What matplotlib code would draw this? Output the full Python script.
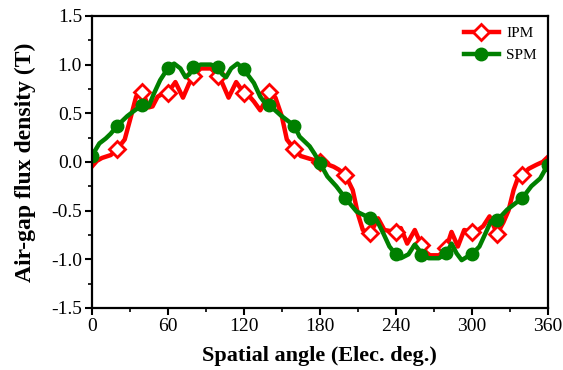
import numpy as np
import matplotlib
matplotlib.use("Agg")
import matplotlib.pyplot as plt
from matplotlib.ticker import MultipleLocator

# ---- data ----
ipm_angle = [0, 4, 8, 15, 20, 26, 31, 35, 40, 45, 48, 52, 56, 60, 66, 72, 77, 80, 82, 86,
             94, 98, 100, 103, 108, 114, 120, 124, 128, 133, 136, 140, 145, 150, 154, 160,
             165, 170, 175, 180, 185, 191, 195, 200, 206, 210, 214, 220, 226, 231, 240,
             244, 249, 255, 260, 264, 267, 274, 277, 280, 284, 289, 294, 300, 305, 309,
             314, 317, 320, 325, 329, 333, 336, 340, 345, 351, 356, 360]
ipm_b = [-0.05, 0.01, 0.04, 0.07, 0.13, 0.23, 0.47, 0.67, 0.72, 0.56, 0.57, 0.67, 0.70,
         0.71, 0.82, 0.66, 0.81, 0.88, 0.91, 0.96, 0.96, 0.91, 0.88, 0.81, 0.66, 0.82,
         0.71, 0.68, 0.62, 0.53, 0.60, 0.72, 0.66, 0.47, 0.23, 0.13, 0.06, 0.04, 0.02,
         0.0, -0.02, -0.05, -0.08, -0.13, -0.29, -0.53, -0.70, -0.73, -0.58, -0.70,
         -0.72, -0.68, -0.84, -0.70, -0.85, -0.93, -0.96, -0.96, -0.93, -0.88, -0.72,
         -0.87, -0.70, -0.72, -0.70, -0.66, -0.56, -0.65, -0.74, -0.62, -0.50, -0.29,
         -0.18, -0.13, -0.07, -0.03, 0.0, 0.05]

spm_angle = [0, 6, 11, 15, 20, 28, 34, 40, 45, 49, 54, 60, 65, 70, 74, 77, 80, 86, 94,
             100, 103, 106, 110, 115, 120, 128, 133, 137, 140, 149, 160, 164, 172, 176,
             180, 186, 193, 200, 209, 220, 225, 230, 235, 240, 244, 250, 255, 258, 260,
             266, 274, 280, 284, 288, 292, 297, 300, 306, 312, 315, 320, 328, 340, 347,
             354, 360]
spm_b = [0.06, 0.19, 0.24, 0.29, 0.37, 0.47, 0.53, 0.585, 0.57, 0.70, 0.84, 0.96, 1.01,
         0.96, 0.87, 0.90, 0.97, 1.00, 1.00, 0.97, 0.90, 0.87, 0.96, 1.01, 0.95, 0.81,
         0.67, 0.60, 0.585, 0.48, 0.37, 0.26, 0.16, 0.08, -0.01, -0.15, -0.25, -0.37,
         -0.51, -0.58, -0.60, -0.73, -0.87, -0.95, -0.99, -0.95, -0.85, -0.90, -0.96,
         -0.99, -0.99, -0.94, -0.84, -0.94, -1.01, -0.97, -0.95, -0.87, -0.70, -0.61,
         -0.60, -0.49, -0.37, -0.25, -0.17, -0.03]

# markers every 20 deg (IPM has none at the ends)
ipm_marks = [(a % 20 == 0) and 0 < a < 360 for a in ipm_angle]
spm_marks = [a % 20 == 0 for a in spm_angle]

plt.rcParams['font.family'] = ['Liberation Serif', 'DejaVu Serif']

fig = plt.figure(figsize=(5.63, 3.70), dpi=100)
ax = fig.add_axes([0.163, 0.168, 0.81, 0.789])

ax.plot(ipm_angle, ipm_b, color='#ff0000', lw=3.2, marker='D', markersize=8,
        markerfacecolor='white', markeredgecolor='#ff0000', markeredgewidth=2,
        markevery=ipm_marks, solid_joinstyle='round', label='IPM')
ax.plot(spm_angle, spm_b, color='#008000', lw=3.2, marker='o', markersize=9,
        markerfacecolor='#008000', markeredgecolor='#008000',
        markevery=spm_marks, solid_joinstyle='round', label='SPM')

ax.set_xlim(0, 360)
ax.set_ylim(-1.5, 1.5)
ax.xaxis.set_major_locator(MultipleLocator(60))
ax.xaxis.set_minor_locator(MultipleLocator(30))
ax.yaxis.set_major_locator(MultipleLocator(0.5))
ax.yaxis.set_minor_locator(MultipleLocator(0.25))
ax.yaxis.set_major_formatter(matplotlib.ticker.FormatStrFormatter('%.1f'))

ax.tick_params(which='major', direction='out', length=5, width=1.5, labelsize=14,
               top=False, right=False, pad=2)
ax.tick_params(which='minor', direction='out', length=3, width=1.2,
               top=False, right=False)
for s in ax.spines.values():
    s.set_linewidth(1.6)

ax.set_xlabel("Spatial angle (Elec. deg.)", fontsize=16, fontweight='bold', labelpad=8)
ax.set_ylabel("Air-gap flux density (T)", fontsize=17, fontweight='bold', labelpad=11)

ax.legend(loc='upper right', frameon=False, fontsize=11, handlelength=2.3,
          borderaxespad=0.3, labelspacing=0.55, handletextpad=0.5)

fig.savefig("out.png", dpi=100)
